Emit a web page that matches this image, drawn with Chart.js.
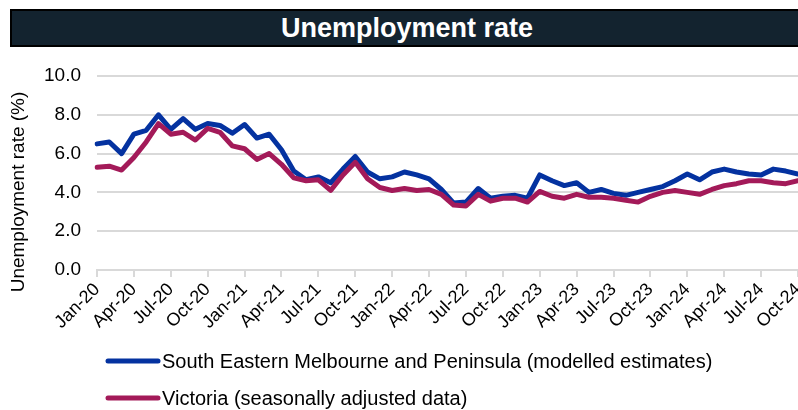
<!DOCTYPE html>
<html>
<head>
<meta charset="utf-8">
<script src="https://cdn.jsdelivr.net/npm/chart.js@4"></script>
<style>
  html, body { margin: 0; padding: 0; background: #fff; }
  #wrap { position: relative; width: 798px; height: 410px; overflow: hidden; }
  #title {
    position: absolute; left: 10px; top: 9px; width: 800px; height: 34px;
    background: #13232F; border: 2px solid #000;
    color: #fff; font: bold 27px "Liberation Sans", Arial, sans-serif;
    line-height: 34px; text-align: center; text-indent: -10px;
  }
  canvas { position: absolute; left: 0; top: 0; }
</style>
</head>
<body>
<div id="wrap">
  <canvas id="chart" width="798" height="410"></canvas>
  <div id="title">Unemployment rate</div>
</div>
<script>
const months = [
  'Jan-20','Feb-20','Mar-20','Apr-20','May-20','Jun-20','Jul-20','Aug-20','Sep-20','Oct-20','Nov-20','Dec-20',
  'Jan-21','Feb-21','Mar-21','Apr-21','May-21','Jun-21','Jul-21','Aug-21','Sep-21','Oct-21','Nov-21','Dec-21',
  'Jan-22','Feb-22','Mar-22','Apr-22','May-22','Jun-22','Jul-22','Aug-22','Sep-22','Oct-22','Nov-22','Dec-22',
  'Jan-23','Feb-23','Mar-23','Apr-23','May-23','Jun-23','Jul-23','Aug-23','Sep-23','Oct-23','Nov-23','Dec-23',
  'Jan-24','Feb-24','Mar-24','Apr-24','May-24','Jun-24','Jul-24','Aug-24','Sep-24','Oct-24'
];

// South Eastern Melbourne and Peninsula (modelled estimates)
const semp = [
  6.5, 6.6, 6.0, 7.0, 7.2, 8.0, 7.25, 7.8, 7.25, 7.55, 7.45, 7.05,
  7.5, 6.8, 7.0, 6.2, 5.1, 4.65, 4.8, 4.5, 5.2, 5.85, 5.05, 4.7,
  4.8, 5.05, 4.9, 4.7, 4.15, 3.45, 3.5, 4.2, 3.7, 3.8, 3.85, 3.7,
  4.9, 4.6, 4.35, 4.5, 4.0, 4.15, 3.95, 3.85, 4.0, 4.15, 4.3, 4.6,
  4.95, 4.65, 5.05, 5.2, 5.05, 4.95, 4.9, 5.2, 5.1, 4.95
];

// Victoria (seasonally adjusted data)
const vic = [
  5.3, 5.35, 5.15, 5.8, 6.6, 7.55, 7.0, 7.1, 6.7, 7.3, 7.1, 6.4,
  6.25, 5.7, 6.0, 5.45, 4.75, 4.6, 4.65, 4.1, 4.9, 5.55, 4.7, 4.25,
  4.1, 4.2, 4.1, 4.15, 3.9, 3.35, 3.3, 3.9, 3.55, 3.7, 3.7, 3.5,
  4.05, 3.8, 3.7, 3.9, 3.75, 3.75, 3.7, 3.6, 3.5, 3.8, 4.0, 4.1,
  4.0, 3.9, 4.15, 4.35, 4.45, 4.6, 4.6, 4.5, 4.45, 4.6
];

const seriesNames = [
  'South Eastern Melbourne and Peninsula (modelled estimates)',
  'Victoria (seasonally adjusted data)'
];
const yTitle = 'Unemployment rate (%)';

const FONT = '"Liberation Sans", Arial, sans-serif';

// y axis title + legend underneath the axis, one entry per row
const extras = {
  id: 'extras',
  afterDraw(chart) {
    const ctx = chart.ctx;
    ctx.save();
    ctx.fillStyle = '#000';
    ctx.font = '19px ' + FONT;
    ctx.textAlign = 'center';
    ctx.textBaseline = 'middle';
    ctx.translate(19, 192);
    ctx.rotate(-Math.PI / 2);
    ctx.fillText(yTitle, 0, 0);
    ctx.restore();

    ctx.save();
    chart.data.datasets.forEach((ds, i) => {
      const y = 361 + i * 37;
      ctx.strokeStyle = ds.borderColor;
      ctx.lineWidth = 5;
      ctx.lineCap = 'round';
      ctx.beginPath();
      ctx.moveTo(108, y);
      ctx.lineTo(158, y);
      ctx.stroke();
      ctx.fillStyle = '#000';
      ctx.font = '20px ' + FONT;
      ctx.textBaseline = 'middle';
      ctx.fillText(ds.label, 162, y + 1);
    });
    ctx.restore();
  }
};

new Chart(document.getElementById('chart'), {
  type: 'line',
  data: {
    labels: months,
    datasets: [{
      label: seriesNames[0],
      data: semp,
      borderColor: '#0432A0',
      borderWidth: 5,
      pointRadius: 0,
      tension: 0,
      borderJoinStyle: 'round',
      borderCapStyle: 'round',
      order: 1
    }, {
      label: seriesNames[1],
      data: vic,
      borderColor: '#A31A59',
      borderWidth: 5,
      pointRadius: 0,
      tension: 0,
      borderJoinStyle: 'round',
      borderCapStyle: 'round',
      order: 0
    }]
  },
  options: {
    responsive: false,
    animation: false,
    layout: { padding: { top: 76, bottom: 80, right: 0, left: 0 } },
    plugins: {
      legend: { display: false },
      tooltip: { enabled: false }
    },
    scales: {
      x: {
        offset: false,
        grid: {
          drawOnChartArea: false,
          tickLength: 7,
          lineWidth: 2,
          color: c => (c.index % 3 === 0 ? '#D9D9D9' : 'rgba(0,0,0,0)')
        },
        border: { color: '#D9D9D9', width: 2 },
        ticks: {
          autoSkip: false,
          minRotation: 45,
          maxRotation: 45,
          padding: 2,
          color: '#000',
          font: { family: FONT, size: 18 },
          callback: (v, i) => (i % 3 === 0 ? months[i] : '')
        },
        afterFit: s => { s.height = 60; s.paddingRight = 0; }
      },
      y: {
        min: 0,
        max: 10,
        ticks: {
          stepSize: 2,
          padding: 16,
          color: '#000',
          font: { family: FONT, size: 19 },
          callback: v => v.toFixed(1)
        },
        grid: { color: '#D9D9D9', lineWidth: 2, tickLength: 0 },
        border: { display: false },
        afterFit: s => { s.width = 97; }
      }
    }
  },
  plugins: [extras]
});
</script>
</body>
</html>
